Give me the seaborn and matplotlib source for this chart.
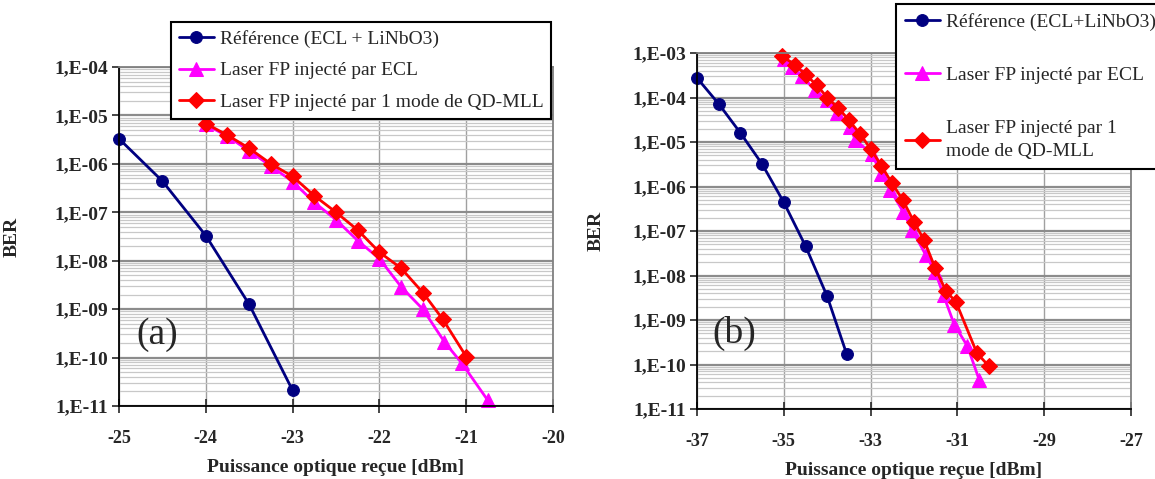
import numpy as np
import pandas as pd
import matplotlib
matplotlib.use("Agg")
import matplotlib.pyplot as plt
import matplotlib.ticker as mticker
import seaborn as sns

# panel (a) data
a_ref_x = [-25, -24.5, -24, -23.5, -23]
a_ref_y = [3.3e-6, 4.4e-7, 3.3e-8, 1.25e-9, 2.1e-11]

a_ecl_x = [-24, -23.75, -23.5, -23.25, -23, -22.75, -22.5, -22.25, -22, -21.75, -21.5, -21.25, -21.05, -20.75]
a_ecl_y = [6.5e-6, 3.7e-6, 1.85e-6, 9e-7, 4.3e-7, 1.6e-7, 7e-8, 2.6e-8, 1.1e-8, 2.9e-9, 1.0e-9, 2.1e-10, 7.6e-11, 1.3e-11]

a_qd_x = [-24, -23.75, -23.5, -23.25, -23, -22.75, -22.5, -22.25, -22, -21.75, -21.5, -21.27, -21]
a_qd_y = [6.8e-6, 3.9e-6, 2.1e-6, 1.0e-6, 5.5e-7, 2.2e-7, 1.0e-7, 4.3e-8, 1.5e-8, 7e-9, 2.2e-9, 6.2e-10, 1.05e-10]

# panel (b) data
b_ref_x = [-37, -36.5, -36, -35.5, -35, -34.5, -34, -33.55]
b_ref_y = [2.75e-4, 7.2e-5, 1.6e-5, 3.2e-6, 4.4e-7, 4.6e-8, 3.4e-9, 1.7e-10]

b_ecl_x = [-35, -34.8, -34.58, -34.28, -34.0, -33.77, -33.48, -33.35, -32.97, -32.76, -32.55,
           -32.25, -32.04, -31.73, -31.51, -31.32, -31.07, -30.77, -30.5]
b_ecl_y = [7.4e-4, 4.9e-4, 3.0e-4, 1.45e-4, 8.7e-5, 4.5e-5, 2.2e-5, 1.1e-5, 5.4e-6, 1.9e-6, 8.5e-7,
           2.7e-7, 1.05e-7, 2.9e-8, 1.2e-8, 3.6e-9, 7.8e-10, 2.6e-10, 4.6e-11]

b_qd_x = [-35.04, -34.75, -34.49, -34.24, -34.0, -33.75, -33.5, -33.24, -32.99, -32.75, -32.51,
          -32.26, -32.0, -31.77, -31.51, -31.27, -31.03, -30.55, -30.27]
b_qd_y = [8.5e-4, 5.5e-4, 3.2e-4, 1.9e-4, 1.0e-4, 5.9e-5, 3.1e-5, 1.5e-5, 6.8e-6, 2.9e-6, 1.2e-6,
          5.0e-7, 1.6e-7, 6.3e-8, 1.45e-8, 4.6e-9, 2.5e-9, 1.8e-10, 9.1e-11]

a_xticks = [-25, -24, -23, -22, -21, -20]
b_xticks = [-37, -35, -33, -31, -29, -27]

a_labels = ["Référence (ECL + LiNbO3)", "Laser FP injecté par ECL",
            "Laser FP injecté par 1 mode de QD-MLL"]
b_labels = ["Référence (ECL+LiNbO3)", "Laser FP injecté par ECL",
            "Laser FP injecté par 1\nmode de QD-MLL"]

sns.set_style("white")
plt.rcParams['font.family'] = ['Liberation Serif', 'DejaVu Serif']

W, H = 1155, 479
fig = plt.figure(figsize=(W / 100, H / 100), dpi=100)

def px_axes(left, top, right, bottom):
    return fig.add_axes([left / W, 1 - bottom / H, (right - left) / W, (bottom - top) / H])

ax_a = px_axes(119, 67, 553, 406)
ax_b = px_axes(697, 53, 1131, 409)

styles = [("#000080", "o", 8.5), ("#FF00FF", "^", 10.5), ("#FF0000", "D", 8)]

def draw_panel(ax, series, labels):
    for (xs, ys), (col, mk, ms), lab in zip(series, styles, labels):
        df = pd.DataFrame({"x": xs, "y": ys})
        sns.lineplot(data=df, x="x", y="y", ax=ax, color=col, marker=mk, markersize=ms,
                     markeredgecolor=col, linewidth=2, label=lab, sort=False,
                     estimator=None, clip_on=False)
    ax.set_yscale("log")

draw_panel(ax_a, [(a_ref_x, a_ref_y), (a_ecl_x, a_ecl_y), (a_qd_x, a_qd_y)], a_labels)
draw_panel(ax_b, [(b_ref_x, b_ref_y), (b_ecl_x, b_ecl_y), (b_qd_x, b_qd_y)], b_labels)

def ber_fmt(v, pos):
    e = int(round(np.log10(v)))
    return "1,E-%02d" % abs(e)

def style_axes(ax, xticks, ylim):
    ax.set_xlim(xticks[0], xticks[-1])
    ax.set_ylim(*ylim)
    ax.set_xticks(xticks)
    ax.set_xticklabels([str(t) for t in xticks])
    ax.yaxis.set_major_locator(mticker.LogLocator(base=10, numticks=20))
    ax.yaxis.set_minor_locator(mticker.LogLocator(base=10, subs=np.arange(2, 10), numticks=20))
    ax.yaxis.set_major_formatter(mticker.FuncFormatter(ber_fmt))
    ax.yaxis.set_minor_formatter(mticker.NullFormatter())
    ax.yaxis.grid(True, which="major", color="#8c8c8c", linewidth=1.6)
    ax.yaxis.grid(True, which="minor", color="#c8c8c8", linewidth=0.9)
    ax.xaxis.grid(True, which="major", color="#a0a0a0", linewidth=1.0)
    ax.set_axisbelow(True)
    for s in ["left", "bottom"]:
        ax.spines[s].set_color("black")
        ax.spines[s].set_linewidth(1.3)
    for s in ["top", "right"]:
        ax.spines[s].set_color("#808080")
        ax.spines[s].set_linewidth(1.3)
    ax.tick_params(axis="y", which="major", direction="out", length=5, width=1.2,
                   labelsize=14, pad=3, left=True)
    ax.tick_params(axis="y", which="minor", length=0)
    ax.tick_params(axis="x", which="major", direction="inout", length=10, width=1.2,
                   labelsize=13, pad=12, bottom=True)
    for lab in ax.get_xticklabels() + ax.get_yticklabels():
        lab.set_fontweight("bold")
    ax.set_xlabel("Puissance optique reçue [dBm]", fontsize=14, fontweight="bold", labelpad=9)
    ax.set_ylabel("BER", fontsize=14, fontweight="bold")

style_axes(ax_a, a_xticks, (1e-11, 1e-4))
style_axes(ax_b, b_xticks, (1e-11, 1e-3))

ax_a.yaxis.set_label_coords((21 - 119) / (553 - 119), 0.5)
ax_b.yaxis.set_label_coords((605 - 697) / (1131 - 697), 0.5)

ax_a.text(157 / W, 1 - 335 / H, "(a)", transform=fig.transFigure, fontsize=27,
          ha="center", va="center")
ax_b.text(734 / W, 1 - 333 / H, "(b)", transform=fig.transFigure, fontsize=27,
          ha="center", va="center")

leg_a = ax_a.legend(loc="upper left", bbox_to_anchor=(171 / W, 1 - 22 / H),
                    bbox_transform=fig.transFigure, fancybox=False, framealpha=1,
                    edgecolor="black", fontsize=14, handlelength=1.8, handletextpad=0.3,
                    labelspacing=0.72, borderpad=0.4, borderaxespad=0)
leg_a.get_frame().set_linewidth(1.5)
leg_a.set_zorder(10)

leg_b = ax_b.legend(loc="upper left", bbox_to_anchor=(896 / W, 1 - 4 / H),
                    bbox_transform=fig.transFigure, fancybox=False, framealpha=1,
                    edgecolor="black", fontsize=14, handlelength=1.8, handletextpad=0.3,
                    labelspacing=1.85, borderpad=0.45, borderaxespad=0)
leg_b.get_texts()[2].set_linespacing(1.45)
leg_b.get_frame().set_linewidth(1.5)
leg_b.set_zorder(10)

fig.savefig("out.png", dpi=100)
